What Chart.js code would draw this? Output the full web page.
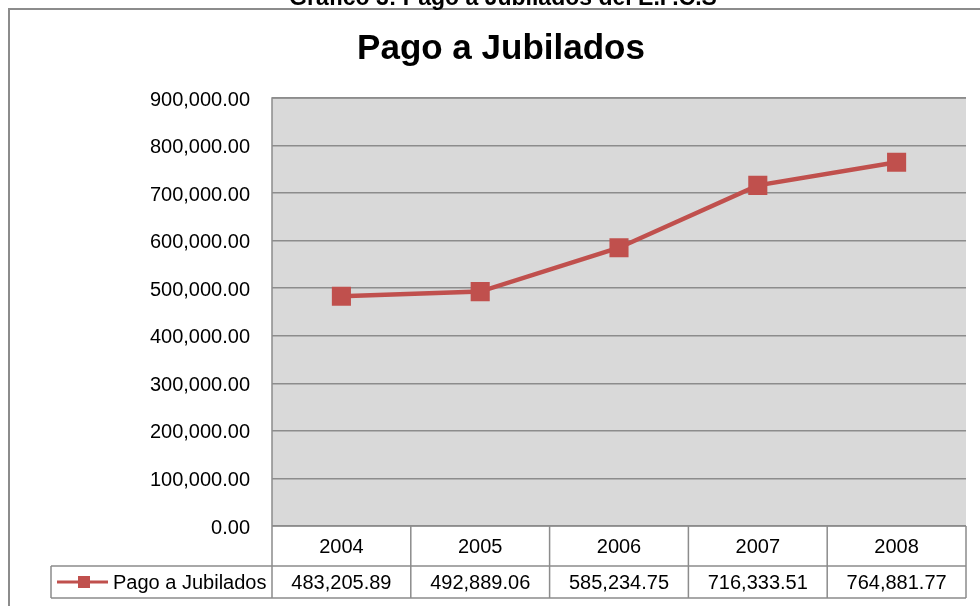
<!DOCTYPE html>
<html>
<head>
<meta charset="utf-8">
<script src="https://cdn.jsdelivr.net/npm/chart.js@4/dist/chart.umd.min.js"></script>
<style>
  html, body { margin: 0; padding: 0; background: #fff; overflow: hidden; }
  #wrap { position: relative; width: 980px; height: 606px; }
</style>
</head>
<body>
<div id="wrap"><canvas id="chart" width="980" height="606"></canvas></div>
<script>
// datos del gráfico
const pageTitle = 'Gráfico 3: Pago a Jubilados del E.P.C.S';
const chartTitle = 'Pago a Jubilados';
const seriesName = 'Pago a Jubilados';
const years = ['2004', '2005', '2006', '2007', '2008'];
const pagos = [483205.89, 492889.06, 585234.75, 716333.51, 764881.77];
const yTicks = [0, 100000, 200000, 300000, 400000, 500000, 600000, 700000, 800000, 900000];

const RED = '#c0504d';
const GRID = '#8c8c8c';
const FONT = '"Liberation Sans", Arial, sans-serif';

const fmt = v => v.toLocaleString('en-US', { minimumFractionDigits: 2, maximumFractionDigits: 2 });

// fondo, marco y tabla de datos
const decor = {
  id: 'decor',
  beforeDraw(chart) {
    const { ctx, chartArea: a } = chart;
    ctx.save();
    ctx.fillStyle = '#fff';
    ctx.fillRect(0, 0, chart.width, chart.height);
    ctx.strokeStyle = GRID;
    ctx.lineWidth = 2;
    ctx.strokeRect(9, 9, 1100, 800);
    ctx.fillStyle = '#d9d9d9';
    ctx.fillRect(a.left, a.top, a.right - a.left, a.bottom - a.top);
    ctx.lineWidth = 1.5;
    ctx.beginPath();
    ctx.moveTo(a.left, a.bottom);
    ctx.lineTo(a.left, a.top);
    ctx.lineTo(a.right, a.top);
    ctx.stroke();
    ctx.restore();
  },
  afterDraw(chart) {
    const { ctx, chartArea: a } = chart;
    const xs = chart.scales.x;
    const colW = (a.right - a.left) / years.length;
    const r1 = a.bottom, r2 = a.bottom + 40, r3 = a.bottom + 72;
    ctx.save();

    // títulos
    ctx.fillStyle = '#000';
    ctx.textAlign = 'center';
    ctx.textBaseline = 'alphabetic';
    ctx.font = 'bold 23px ' + FONT;
    ctx.fillText(pageTitle, 503, 5);
    ctx.font = 'bold 35px ' + FONT;
    ctx.textBaseline = 'middle';
    ctx.fillText(chartTitle, 501, 49);

    // tabla
    ctx.strokeStyle = GRID;
    ctx.lineWidth = 1.5;
    ctx.beginPath();
    ctx.moveTo(a.left, r1); ctx.lineTo(a.right, r1);
    ctx.moveTo(51, r2); ctx.lineTo(a.right, r2);
    ctx.moveTo(51, r3); ctx.lineTo(a.right, r3);
    ctx.moveTo(51, r2); ctx.lineTo(51, r3);
    for (let i = 0; i <= years.length; i++) {
      const x = a.left + i * colW;
      ctx.moveTo(x, r1); ctx.lineTo(x, r3);
    }
    ctx.stroke();

    ctx.font = '20px ' + FONT;
    ctx.textAlign = 'center';
    years.forEach((y, i) => {
      const x = xs.getPixelForValue(i);
      ctx.fillText(y, x, (r1 + r2) / 2 + 1);
      ctx.fillText(fmt(pagos[i]), x, (r2 + r3) / 2 + 1);
    });

    // leyenda
    const ly = (r2 + r3) / 2;
    ctx.strokeStyle = RED;
    ctx.lineWidth = 3;
    ctx.beginPath();
    ctx.moveTo(57, ly); ctx.lineTo(108, ly);
    ctx.stroke();
    ctx.fillStyle = RED;
    ctx.fillRect(78, ly - 6, 12, 12);
    ctx.fillStyle = '#000';
    ctx.textAlign = 'left';
    ctx.fillText(seriesName, 113, ly + 1);
    ctx.restore();
  }
};

new Chart(document.getElementById('chart'), {
  type: 'line',
  data: {
    labels: years,
    datasets: [{
      label: seriesName,
      data: pagos,
      borderColor: RED,
      backgroundColor: RED,
      borderWidth: 4.5,
      pointStyle: 'rect',
      pointRadius: 13.5,
      pointBackgroundColor: RED,
      pointBorderWidth: 0,
      tension: 0
    }]
  },
  options: {
    responsive: false,
    animation: false,
    layout: { padding: { left: 0, right: 14, top: 98, bottom: 0 } },
    plugins: {
      legend: { display: false },
      title: { display: false },
      tooltip: { enabled: false }
    },
    scales: {
      x: {
        offset: true,
        grid: { display: false },
        border: { display: false },
        ticks: { display: false },
        afterFit: s => { s.height = 80; }
      },
      y: {
        min: 0,
        max: 900000,
        afterBuildTicks: s => { s.ticks = yTicks.map(v => ({ value: v })); },
        afterFit: s => { s.width = 272; },
        border: { display: false },
        grid: { color: GRID, lineWidth: 1.5, drawTicks: false },
        ticks: {
          padding: 22,
          labelOffset: 2,
          color: '#000',
          font: { family: FONT, size: 20 },
          callback: v => fmt(v)
        }
      }
    }
  },
  plugins: [decor]
});
</script>
</body>
</html>
